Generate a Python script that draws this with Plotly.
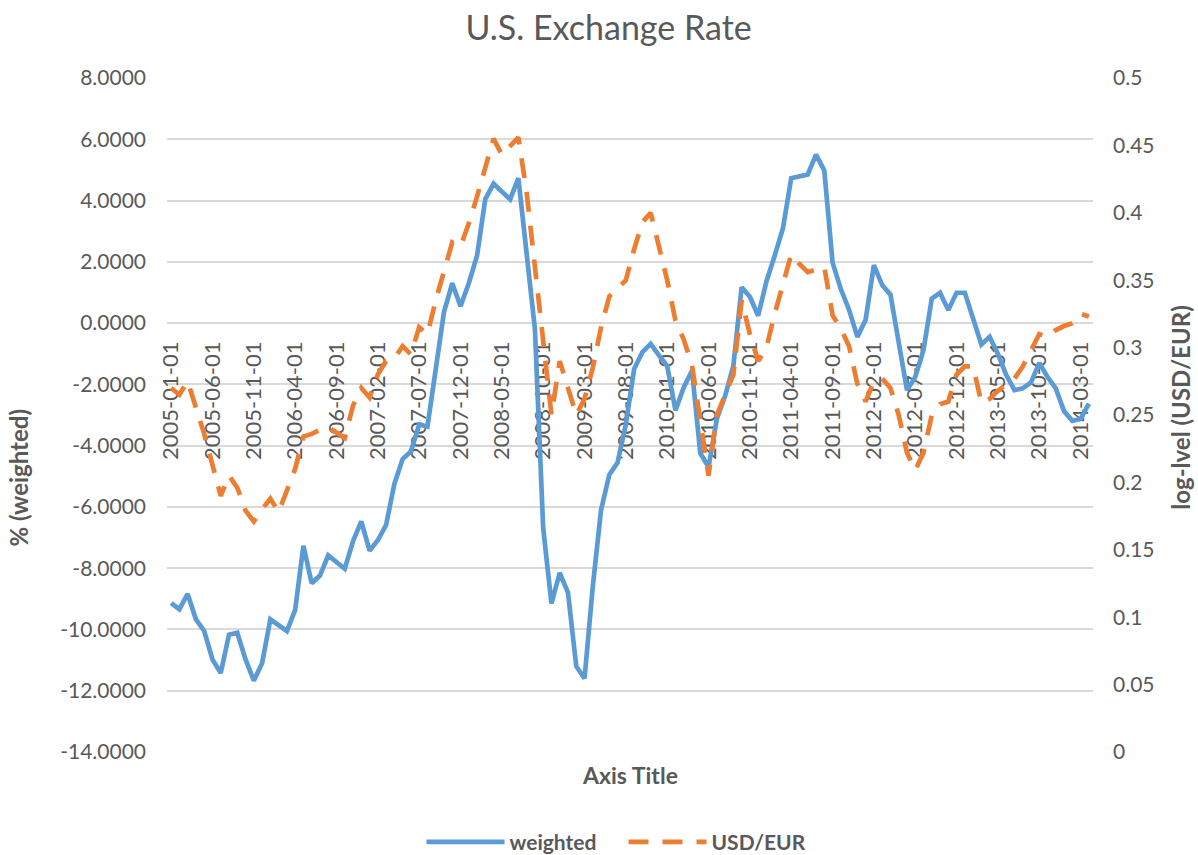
import pandas as pd
import plotly.graph_objects as go

# Monthly categories 2005-01 .. 2014-04
months = [d.strftime("%Y-%m-%d") for d in pd.date_range("2005-01-01", "2014-04-01", freq="MS")]

weighted = [
    -9.14, -9.34, -8.84, -9.67, -10.05, -10.98, -11.42, -10.17, -10.11, -10.98,
    -11.67, -11.10, -9.67, -9.86, -10.05, -9.36, -7.27, -8.49, -8.24, -7.58,
    -7.80, -8.02, -7.12, -6.47, -7.43, -7.09, -6.59, -5.25, -4.44, -4.19,
    -3.31, -3.38, -1.51, 0.36, 1.30, 0.55, 1.30, 2.20, 4.05, 4.55,
    4.29, 4.04, 4.73, 2.40, -0.20, -6.70, -9.15, -8.15, -8.80, -11.20,
    -11.60, -8.60, -6.10, -4.95, -4.55, -3.30, -1.50, -0.95, -0.68, -1.05,
    -1.40, -2.85, -2.10, -1.55, -4.25, -4.70, -3.13, -2.38, -1.40, 1.17,
    0.86, 0.24, 1.36, 2.20, 3.10, 4.73, 4.79, 4.85, 5.50, 4.98,
    1.98, 1.11, 0.43, -0.45, 0.11, 1.89, 1.24, 0.93, -0.63, -2.19,
    -1.76, -0.88, 0.80, 0.99, 0.43, 0.99, 0.99, 0.11, -0.70, -0.45,
    -1.01, -1.69, -2.19, -2.13, -1.94, -1.30, -1.76, -2.13, -2.88, -3.19,
    -3.13, -2.63,
]

usd_eur = [
    0.270, 0.265, 0.275, 0.256, 0.236, 0.213, 0.190, 0.205, 0.196, 0.179,
    0.171, 0.180, 0.188, 0.178, 0.193, 0.210, 0.234, 0.236, 0.239, 0.241,
    0.237, 0.233, 0.257, 0.270, 0.263, 0.280, 0.290, 0.292, 0.301, 0.295,
    0.315, 0.310, 0.335, 0.358, 0.378, 0.375, 0.392, 0.412, 0.435, 0.455,
    0.443, 0.449, 0.456, 0.415, 0.360, 0.310, 0.250, 0.290, 0.270, 0.250,
    0.262, 0.285, 0.315, 0.338, 0.344, 0.350, 0.373, 0.393, 0.400, 0.376,
    0.350, 0.320, 0.306, 0.287, 0.246, 0.205, 0.250, 0.265, 0.280, 0.335,
    0.310, 0.290, 0.300, 0.325, 0.348, 0.369, 0.362, 0.356, 0.358, 0.360,
    0.324, 0.314, 0.301, 0.273, 0.260, 0.275, 0.277, 0.270, 0.250, 0.222,
    0.209, 0.222, 0.250, 0.258, 0.260, 0.280, 0.286, 0.286, 0.259, 0.262,
    0.268, 0.273, 0.277, 0.286, 0.298, 0.310, 0.308, 0.313, 0.316, 0.318,
    0.325, 0.323,
]

left_ticks = [8, 6, 4, 2, 0, -2, -4, -6, -8, -10, -12, -14]
left_labels = ["8.0000", "6.0000", "4.0000", "2.0000", "0.0000", "-2.0000", "-4.0000",
               "-6.0000", "-8.0000", "-10.0000", "-12.0000", "-14.0000"]
right_ticks = [0, 0.05, 0.1, 0.15, 0.2, 0.25, 0.3, 0.35, 0.4, 0.45, 0.5]
right_labels = ["0", "0.05", "0.1", "0.15", "0.2", "0.25", "0.3", "0.35", "0.4", "0.45", "0.5"]
x_tick_labels = months[::5]

FONT = "Lato"
GREY = "#595959"

fig = go.Figure()
fig.add_trace(go.Scatter(x=months, y=weighted, name="weighted", mode="lines",
                         line=dict(color="#5b9bd5", width=4.7), yaxis="y"))
fig.add_trace(go.Scatter(x=months, y=usd_eur, name="USD/EUR", mode="lines",
                         line=dict(color="#ed7d31", width=4.7, dash="20px,14px"), yaxis="y2"))

fig.update_layout(
    width=1198, height=855,
    margin=dict(l=167, r=105, t=78, b=103, autoexpand=False),
    paper_bgcolor="white", plot_bgcolor="white",
    font=dict(family=FONT, color=GREY, size=21),
    title=dict(text="U.S. Exchange Rate", x=0.508, xanchor="center", xref="container",
               y=0.967, yanchor="middle", yref="container",
               font=dict(family=FONT, size=34, color=GREY)),
    xaxis=dict(type="category", range=[-0.5, len(months) - 0.5],
               tickmode="array", tickvals=x_tick_labels, ticktext=x_tick_labels,
               tickangle=-90, ticks="", showgrid=False, zeroline=False, showline=False,
               anchor="free", position=14 / 22, ticklabelstandoff=13, automargin=False,
               layer="below traces", tickfont=dict(size=22, color=GREY)),
    yaxis=dict(range=[-14, 8], tickmode="array", tickvals=left_ticks, ticktext=left_labels,
               showgrid=True, gridcolor="#d9d9d9", gridwidth=1.5, zeroline=False,
               showline=False, ticks="", ticklabelstandoff=20, automargin=False,
               tickfont=dict(size=21, color=GREY)),
    yaxis2=dict(range=[0, 0.5], overlaying="y", side="right", tickmode="array",
                tickvals=right_ticks, ticktext=right_labels, showgrid=False,
                zeroline=False, showline=False, ticks="", ticklabelstandoff=19,
                automargin=False, tickfont=dict(size=21, color=GREY)),
    legend=dict(orientation="h", x=0.493, xanchor="center", y=-0.134, yanchor="middle",
                font=dict(family=FONT, size=21, color=GREY, weight="bold"),
                bgcolor="rgba(0,0,0,0)", itemwidth=78, entrywidth=109, tracegroupgap=0),
    showlegend=True,
    annotations=[
        dict(text="% (weighted)", xref="paper", yref="paper", x=-0.1614, y=(752 - 478) / 674,
             xanchor="center", yanchor="middle", textangle=-90, showarrow=False,
             font=dict(family=FONT, size=24, color=GREY, weight="bold")),
        dict(text="log-lvel (USD/EUR)", xref="paper", yref="paper", x=1.0936, y=(752 - 408) / 674,
             xanchor="center", yanchor="middle", textangle=-90, showarrow=False,
             font=dict(family=FONT, size=24, color=GREY, weight="bold")),
        dict(text="Axis Title", xref="paper", yref="paper", x=0.5, y=(752 - 775) / 674,
             xanchor="center", yanchor="middle", showarrow=False,
             font=dict(family=FONT, size=23, color=GREY, weight="bold")),
    ],
)

fig.write_html("out.html", config={"displayModeBar": False},
               post_script="document.body.style.margin='0';document.body.style.padding='0';")
